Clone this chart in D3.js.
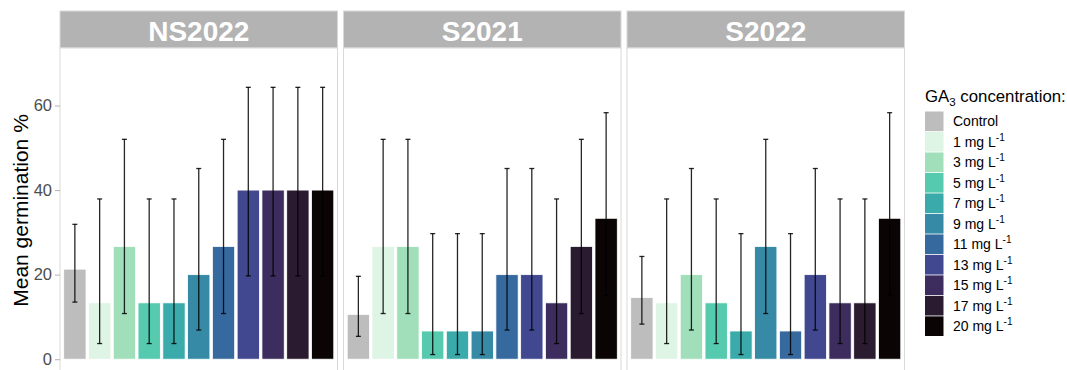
<!DOCTYPE html>
<html><head><meta charset="utf-8">
<script src="https://cdn.jsdelivr.net/npm/d3@7"></script>
<style>body{margin:0;background:#fff;} svg{display:block;font-family:"Liberation Sans",Arial,sans-serif;}</style>
</head><body><svg id="c" width="1067" height="370"></svg>
<script>
const panels = ["NS2022","S2021","S2022"];
const concentrations = ["Control","1","3","5","7","9","11","13","15","17","20"];
const colors = ["#bdbdbd","#def4e4","#a1dfba","#56caae","#3aaaab","#368aa6","#366a9f","#414890","#3c2d5e","#2b1b30","#0b0405"];
const means = {
  NS2022: [21.3,13.33,26.67,13.33,13.33,20,26.67,40,40,40,40],
  S2021:  [10.6,26.67,26.67,6.67,6.67,6.67,20,20,13.33,26.67,33.33],
  S2022:  [14.6,13.33,20,13.33,6.67,26.67,6.67,20,13.33,13.33,33.33]
};
const lows = {
  NS2022: [13.5,3.7,10.8,3.7,3.7,6.9,10.8,19.7,19.7,19.7,19.7],
  S2021:  [5.4,10.8,10.8,1.1,1.1,1.1,6.9,6.9,3.7,10.8,15.1],
  S2022:  [8.3,3.7,6.9,3.7,1.1,10.8,1.1,6.9,3.7,3.7,15.1]
};
const highs = {
  NS2022: [31.9,37.9,52,37.9,37.9,45.1,52,64.3,64.3,64.3,64.3],
  S2021:  [19.6,52,52,29.7,29.7,29.7,45.1,45.1,37.9,52,58.3],
  S2022:  [24.3,37.9,45.1,37.9,29.7,52,29.7,45.1,37.9,37.9,58.3]
};
const yTicks = [0,20,40,60];

const svg = d3.select("#c");
const panelX = [60,343.5,627];
const panelW = 277.5;
const stripTop = 11, stripH = 37;
const plotTop = stripTop + stripH;
const y = d3.scaleLinear().domain([-3.5,73.6]).range([374,plotTop]);

panels.forEach((p,i)=>{
  const g = svg.append("g").attr("transform",`translate(${panelX[i]},0)`);
  g.append("rect").attr("x",0).attr("y",stripTop).attr("width",panelW).attr("height",stripH)
    .attr("fill","#b3b3b3").attr("stroke","#d9d9d9").attr("stroke-width",1);
  g.append("text").attr("x",panelW/2).attr("y",41).attr("text-anchor","middle")
    .attr("fill","#fff").attr("font-weight","bold").attr("font-size",28).text(p);
  g.append("rect").attr("x",0).attr("y",plotTop).attr("width",panelW).attr("height",380-plotTop)
    .attr("fill","#fff").attr("stroke","#d9d9d9").attr("stroke-width",1);
  // ggplot-style discrete expansion: 0.6 units each side, bar width 0.9
  const unit = panelW/(concentrations.length-1+1.2);
  const xs = d3.scalePoint().domain(concentrations).range([0.6*unit, panelW-0.6*unit]);
  const bw = 0.9*unit;
  g.selectAll(".bar").data(concentrations).enter().append("rect")
    .attr("x",d=>xs(d)-bw/2).attr("width",bw)
    .attr("y",(d,j)=>y(means[p][j])).attr("height",(d,j)=>y(0)-y(means[p][j]))
    .attr("fill",(d,j)=>colors[j]).attr("stroke","#fff").attr("stroke-width",0.8);
  const cap = 2.5;
  concentrations.forEach((d,j)=>{
    const cx = xs(d);
    const eg = g.append("g").attr("stroke","#000").attr("stroke-width",1.3).attr("stroke-opacity",0.85);
    eg.append("line").attr("x1",cx).attr("x2",cx).attr("y1",y(lows[p][j])).attr("y2",y(highs[p][j]));
    eg.append("line").attr("x1",cx-cap).attr("x2",cx+cap).attr("y1",y(lows[p][j])).attr("y2",y(lows[p][j]));
    eg.append("line").attr("x1",cx-cap).attr("x2",cx+cap).attr("y1",y(highs[p][j])).attr("y2",y(highs[p][j]));
  });
  if(i===0){
    const ax = g.append("g").call(d3.axisLeft(y).tickValues(yTicks).tickSize(5).tickPadding(3));
    ax.select(".domain").remove();
    ax.selectAll(".tick line").attr("stroke","#b3b3b3");
    ax.selectAll(".tick text").attr("fill","#4d4d4d").attr("font-size",16.5).attr("font-family","Liberation Sans, Arial, sans-serif");
  }
});

svg.append("text").attr("transform",`translate(28,210.5) rotate(-90)`)
  .attr("text-anchor","middle").attr("font-size",21).attr("fill","#000").text("Mean germination %");

const lg = svg.append("g").attr("transform","translate(925,0)");
const title = lg.append("text").attr("x",0).attr("y",101.5).attr("font-size",16.8).attr("fill","#000");
title.append("tspan").text("GA");
title.append("tspan").attr("font-size",11.5).attr("dy",4).text("3");
title.append("tspan").attr("dy",-4).text(" concentration:");
const ky = d3.scaleBand().domain(concentrations).range([111.5,336]).paddingInner(0.04);
concentrations.forEach((d,j)=>{
  lg.append("rect").attr("x",0).attr("y",ky(d)).attr("width",18.5).attr("height",ky.bandwidth())
    .attr("fill",colors[j]);
  const t = lg.append("text").attr("x",28).attr("y",ky(d)+ky.bandwidth()/2+5).attr("font-size",14).attr("fill","#000");
  if(d==="Control"){ t.text("Control"); }
  else {
    t.append("tspan").text(d+" mg L");
    t.append("tspan").attr("font-size",10).attr("dy",-6).text("-1");
  }
});
</script></body></html>
